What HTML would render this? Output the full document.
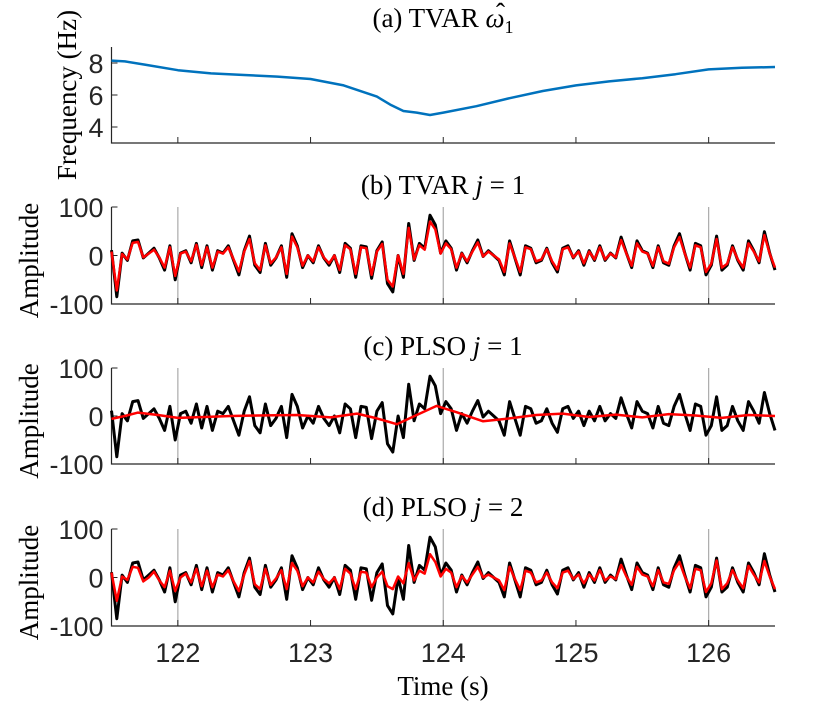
<!DOCTYPE html>
<html><head><meta charset="utf-8"><style>
body{margin:0;background:#fff}
svg{display:block}
.tk{font-family:"Liberation Sans",sans-serif;font-size:27px;fill:#262626}
.tt{font-family:"Liberation Serif",serif;font-size:27px;fill:#000}
</style></head><body>
<svg id="chart" width="813" height="709" viewBox="0 0 813 709" xmlns="http://www.w3.org/2000/svg"></svg>
<script>
const freqT=[121.5,121.6,121.75,122,122.25,122.5,122.75,123,123.25,123.5,123.6,123.7,123.8,123.9,124,124.25,124.5,124.75,125,125.25,125.5,125.75,126,126.25,126.5];
const freqV=[8.15,8.1,7.9,7.55,7.35,7.25,7.15,7.0,6.6,5.9,5.4,5.0,4.9,4.75,4.9,5.3,5.8,6.25,6.6,6.85,7.05,7.3,7.6,7.7,7.75];
const eeg=[11,-85,5,-10,30,32,-5,5,15,-5,-30,20,-50,5,10,-15,25,-25,20,-30,10,5,20,-10,-40,10,40,-20,-35,25,-20,-5,20,-45,45,20,-25,0,-15,20,-5,-20,0,-35,25,15,-45,20,18,-47,10,28,-58,-75,0,-45,66,-10,25,15,83,63,5,30,
15,-30,5,-15,10,32,-2,10,0,-10,-40,30,-5,-40,20,15,-15,-10,15,-15,-34,15,20,-5,10,-20,10,-10,20,-10,5,-5,38,5,-25,30,10,5,-25,20,-15,-20,20,45,5,-30,25,20,-40,-20,40,-30,-20,20,-10,-30,30,10,-15,49,5,-30];
const tvar1=[8,-72,3,-8,26,28,-4,4,12,-4,-25,17,-42,4,8,-12,22,-20,17,-25,8,4,17,-8,-33,8,34,-16,-30,21,-16,-4,17,-38,39,17,-21,0,-12,17,-4,-16,0,-30,21,13,-38,17,15,-40,8,24,-50,-64,0,-38,57,-8,21,12,70,54,4,25,
13,-25,4,-12,8,27,-2,8,0,-8,-34,25,-4,-34,17,13,-12,-8,13,-12,-29,13,17,-4,8,-16,8,-8,17,-8,4,-4,32,4,-21,25,8,4,-21,17,-12,-17,17,38,4,-25,21,17,-34,-17,34,-25,-17,17,-8,-25,25,8,-12,42,4,-25];
const plso1T=[121.5,121.6,121.7,121.85,122,122.2,122.4,122.6,122.9,123.15,123.35,123.5,123.65,123.8,123.95,124.1,124.3,124.5,124.7,124.9,125.1,125.3,125.5,125.7,125.9,126.1,126.3,126.5];
const plso1V=[-6,0,7,2,-4,-2,0,1,2,-3,5,-5,-17,2,21,8,-11,-5,2,5,-2,3,-3,4,1,-4,2,0];
const plso2=[10,-48,2,-5,22,20,-8,0,12,-6,-20,14,-28,0,8,-10,18,-18,14,-20,6,2,15,-8,-28,6,34,-14,-24,18,-15,-2,15,-24,30,14,-18,0,-10,12,-3,-12,0,-24,18,8,-24,12,10,-20,0,12,-18,-24,2,-12,30,-6,14,8,48,32,2,18,
10,-20,3,-10,6,22,0,6,0,-6,-26,22,-3,-26,14,10,-10,-6,10,-10,-22,10,14,-3,6,-12,6,-6,15,-6,2,-3,26,2,-15,22,6,2,-18,15,-10,-13,15,32,2,-22,18,15,-30,-12,35,-24,-12,15,-6,-22,24,6,-10,34,2,-24];

const svg=document.getElementById('chart');
const NS='http://www.w3.org/2000/svg';
function mk(tag,attrs,parent){const e=document.createElementNS(NS,tag);for(const k in attrs)e.setAttribute(k,attrs[k]);(parent||svg).appendChild(e);return e;}
const X0=111.5,X1=775,T0=121.5,T1=126.5;
const xs=t=>X0+(t-T0)/(T1-T0)*(X1-X0);
function txt(x,y,s,cls,extra){const e=mk('text',Object.assign({x:x,y:y,class:cls},extra||{}));e.textContent=s;return e;}

const panels=[
 {top:47,bot:143,ymin:3,ymax:9,ticks:[4,6,8],title:'(a) TVAR ',name:'panel-a'},
 {top:207,bot:304,ymin:-100,ymax:100,ticks:[-100,0,100],title:'(b) TVAR ',name:'panel-b'},
 {top:368,bot:464,ymin:-100,ymax:100,ticks:[-100,0,100],title:'(c) PLSO ',name:'panel-c'},
 {top:529,bot:626,ymin:-100,ymax:100,ticks:[-100,0,100],title:'(d) PLSO ',name:'panel-d'}];
const titleY=[27,194,355,516];

panels.forEach((p,i)=>{
 const g=mk('g',{});
 
 
 const ys=v=>p.bot-(v-p.ymin)/(p.ymax-p.ymin)*(p.bot-p.top);
 p.ys=ys;
 if(i>0){[122,124,126].forEach(t=>{const l=mk('line',{x1:xs(t),x2:xs(t),y1:p.top,y2:p.bot,stroke:'#aaa','stroke-width':1.2},g);
  
  });}
 const ax=mk('path',{d:`M${X0},${p.top}V${p.bot}H${X1}`,fill:'none',stroke:'#262626','stroke-width':1.2},g);
 
 
 p.ticks.forEach(v=>{mk('line',{x1:X0,x2:X0+6,y1:ys(v),y2:ys(v),stroke:'#262626'},g);
  const t=txt(X0-8,ys(v)+10,String(v),'tk',{'text-anchor':'end'});
  
  });
 [122,123,124,125,126].forEach(t=>mk('line',{x1:xs(t),x2:xs(t),y1:p.bot,y2:p.bot-6,stroke:'#262626'},g));
 const tt=mk('text',{x:443,y:titleY[i],class:'tt','text-anchor':'middle'});
 
 
 if(i==0){tt.innerHTML='(a) TVAR <tspan font-style="italic">ω</tspan><tspan font-size="18" dy="6">1</tspan>';
  const hat=txt(496,22,'ˆ','tt',{'font-size':'26'});
  
  }
 else{tt.innerHTML=p.title+'<tspan font-style="italic">j</tspan> = '+(i==3?'2':'1');}
 const yl=txt(0,0,i==0?'Frequency (Hz)':'Amplitude','tt',{'text-anchor':'middle','font-size':'29',transform:`translate(${i==0?76:38},${i==0?95:(p.top+p.bot)/2+5}) rotate(-90)`});
 
 
});

function line(T,V,p,color,w,name){
 const d=V.map((v,k)=>(k?'L':'M')+xs(T(k)).toFixed(1)+','+p.ys(v).toFixed(1)).join('');
 const e=mk('path',{d:d,fill:'none',stroke:color,'stroke-width':w,'stroke-linejoin':'round'});
 
 
}
const step=k=>T0+k*0.04;
line(k=>freqT[k],freqV,panels[0],'#0072BD',2.5,'frequency-line');
line(step,eeg,panels[1],'#000',3,'signal-line');
line(step,tvar1,panels[1],'#f00',2.5,'tvar-line');
line(step,eeg,panels[2],'#000',3,'signal-line');
line(k=>plso1T[k],plso1V,panels[2],'#f00',2.5,'plso-line');
line(step,eeg,panels[3],'#000',3,'signal-line');
line(step,plso2,panels[3],'#f00',2.5,'plso-line');

[122,123,124,125,126].forEach(t=>{const e=txt(xs(t),662,String(t),'tk',{'text-anchor':'middle'});
 
 });
const xl=txt(443,695,'Time (s)','tt',{'text-anchor':'middle','font-size':'28'});


</script>
</body></html>
